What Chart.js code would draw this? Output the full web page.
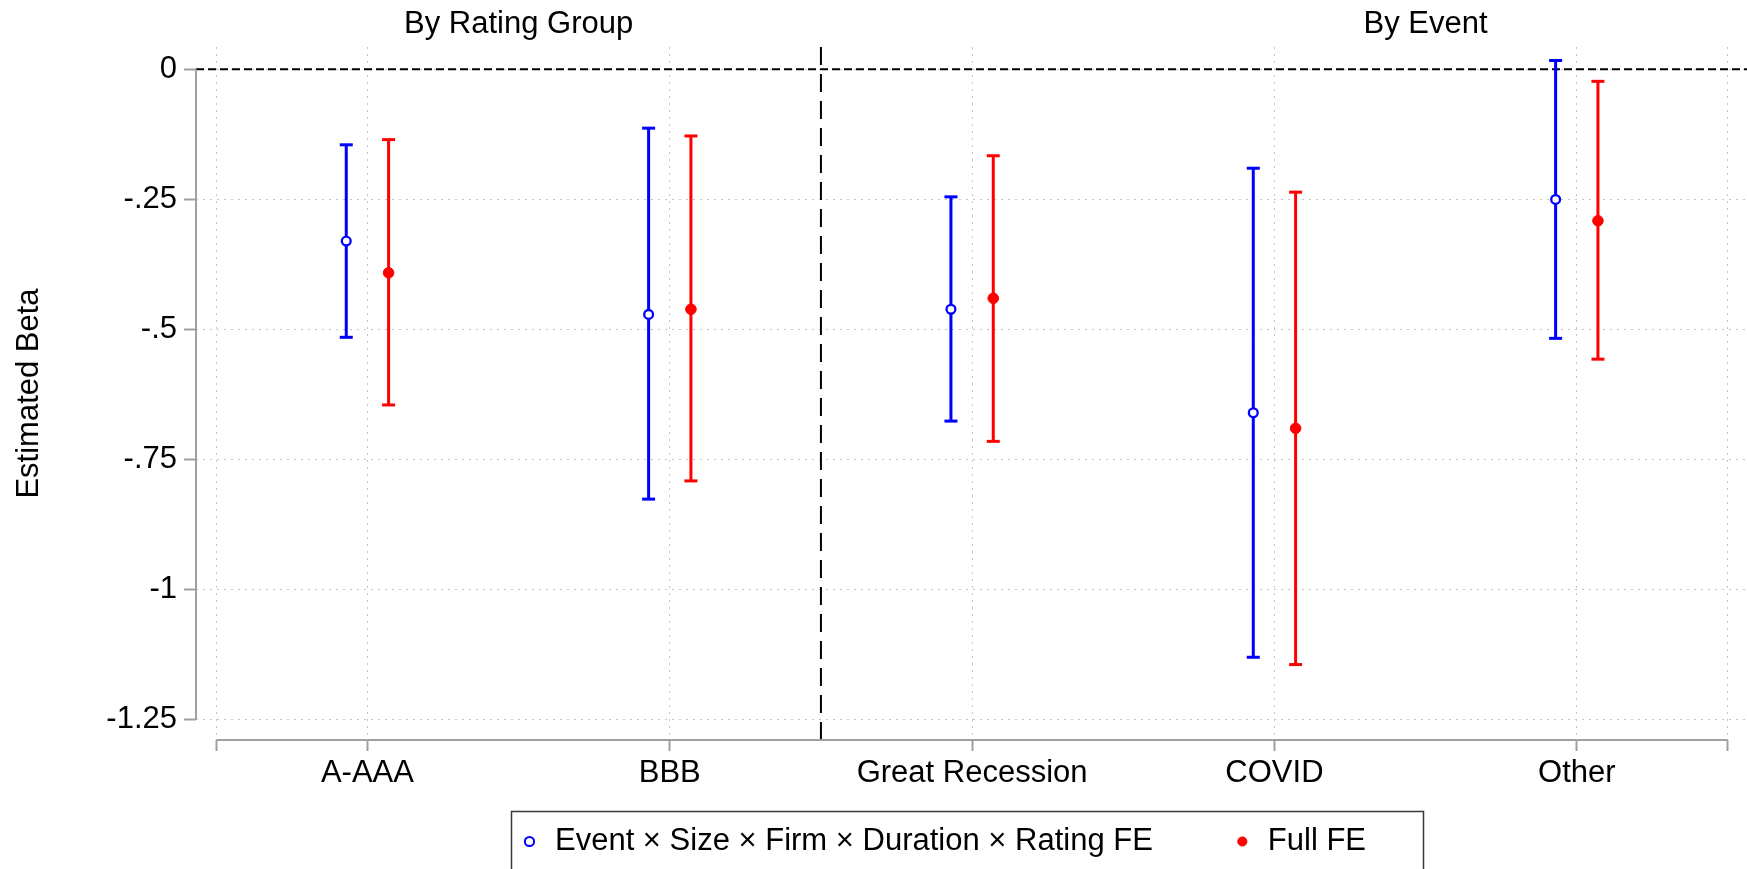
<!DOCTYPE html>
<html><head><meta charset="utf-8">
<script src="https://cdn.jsdelivr.net/npm/chart.js@4.4.1/dist/chart.umd.min.js"></script>
<style>html,body{margin:0;padding:0;background:#fff;overflow:hidden}canvas{display:block}</style>
</head><body>
<canvas id="c" width="1747" height="869"></canvas>
<script>
// ---------- data ----------
const categories = ['A-AAA', 'BBB', 'Great Recession', 'COVID', 'Other'];
const groupTitles = ['By Rating Group', 'By Event'];
const groupCenters = [1.5, 4.5];
const seriesNames = ['Event \u00d7 Size \u00d7 Firm \u00d7 Duration \u00d7 Rating FE', 'Full FE'];

const estEvent = [-0.330, -0.471, -0.461, -0.660, -0.250];
const loEvent  = [-0.515, -0.826, -0.676, -1.130, -0.517];
const hiEvent  = [-0.145, -0.113, -0.245, -0.190,  0.017];

const estFull  = [-0.391, -0.461, -0.440, -0.690, -0.291];
const loFull   = [-0.645, -0.791, -0.715, -1.144, -0.557];
const hiFull   = [-0.135, -0.128, -0.166, -0.236, -0.023];

const yTickValues = [0, -0.25, -0.5, -0.75, -1, -1.25];
const yTickLabels = ['0', '-.25', '-.5', '-.75', '-1', '-1.25'];
const xTickValues = [0.5, 1, 2, 3, 4, 5, 5.5];
const refY = 0;
const refX = 2.5;

// ---------- styling / layout ----------
const BLUE = '#0000ff', RED = '#ff0000';
const OFFSET = 0.07;
const X_MIN = 0.433, X_MAX = 5.563, Y_MIN = -1.289, Y_MAX = 0.043;
const FONT = "'Liberation Sans', Arial, Helvetica, sans-serif";
const FS = 31;

Chart.defaults.font.family = FONT;
Chart.defaults.font.size = FS;
Chart.defaults.color = '#000';

function whiskers(lo, hi, off) {
  const d = [];
  categories.forEach((c, i) => {
    const x = i + 1 + off;
    d.push({x, y: lo[i]}, {x, y: hi[i]}, {x, y: null});
  });
  return d;
}
function caps(lo, hi, off) {
  const d = [];
  categories.forEach((c, i) => {
    const x = i + 1 + off;
    d.push({x, y: lo[i]}, {x, y: hi[i]});
  });
  return d;
}
function points(est, off) {
  return categories.map((c, i) => ({x: i + 1 + off, y: est[i]}));
}

const frame = {
  id: 'frame',
  beforeDatasetsDraw(chart) {
    const {ctx, chartArea: a, scales: {x, y}} = chart;
    ctx.save();
    ctx.strokeStyle = '#000';
    ctx.lineWidth = 2;
    ctx.setLineDash([8, 4]);
    const py = y.getPixelForValue(refY);
    ctx.beginPath(); ctx.moveTo(a.left, py); ctx.lineTo(a.right, py); ctx.stroke();
    ctx.setLineDash([18, 9]);
    const px = x.getPixelForValue(refX);
    ctx.beginPath(); ctx.moveTo(px, a.top); ctx.lineTo(px, a.bottom); ctx.stroke();
    ctx.setLineDash([]);
    ctx.strokeStyle = '#a0a0a0';
    ctx.lineWidth = 2;
    ctx.beginPath();
    ctx.moveTo(a.left, y.getPixelForValue(yTickValues[0]));
    ctx.lineTo(a.left, y.getPixelForValue(yTickValues[yTickValues.length - 1]));
    ctx.stroke();
    ctx.beginPath();
    ctx.moveTo(x.getPixelForValue(xTickValues[0]), a.bottom);
    ctx.lineTo(x.getPixelForValue(xTickValues[xTickValues.length - 1]), a.bottom);
    ctx.stroke();
    ctx.restore();
  },
  afterDraw(chart) {
    const lg = chart.legend;
    if (!lg || !lg.legendHitBoxes || !lg.legendHitBoxes.length) return;
    const hb = lg.legendHitBoxes;
    const left = hb[0].left - 8;
    const right = hb[hb.length - 1].left + hb[hb.length - 1].width;
    const top = hb[0].top - 15;
    const ctx = chart.ctx;
    ctx.save();
    ctx.strokeStyle = '#3a3a3a';
    ctx.lineWidth = 1.5;
    ctx.strokeRect(Math.round(left) + 0.5, Math.round(top) + 0.5, Math.round(right - left), 200);
    ctx.restore();
  }
};

const spacer = {text: '', pointStyle: 'circle', fillStyle: 'rgba(0,0,0,0)', strokeStyle: 'rgba(0,0,0,0)', lineWidth: 0, hidden: false};

function noHPad(s) { s.paddingLeft = 0; s.paddingRight = 0; }

new Chart(document.getElementById('c'), {
  type: 'line',
  data: {
    datasets: [
      {label: seriesNames[0], data: points(estEvent, -OFFSET), showLine: false, pointStyle: 'circle',
       pointRadius: 4.4, pointBorderWidth: 2.3, pointBorderColor: BLUE, pointBackgroundColor: '#fff', xAxisID: 'x', yAxisID: 'y'},
      {label: seriesNames[1], data: points(estFull, OFFSET), showLine: false, pointStyle: 'circle',
       pointRadius: 5.3, pointBorderWidth: 1, pointBorderColor: RED, pointBackgroundColor: RED, xAxisID: 'x', yAxisID: 'y'},
      {label: 'capsE', data: caps(loEvent, hiEvent, -OFFSET), showLine: false, pointStyle: 'line',
       pointRadius: 6.5, pointBorderWidth: 3, pointBorderColor: BLUE, xAxisID: 'x', yAxisID: 'y'},
      {label: 'capsF', data: caps(loFull, hiFull, OFFSET), showLine: false, pointStyle: 'line',
       pointRadius: 6.5, pointBorderWidth: 3, pointBorderColor: RED, xAxisID: 'x', yAxisID: 'y'},
      {label: 'ciE', data: whiskers(loEvent, hiEvent, -OFFSET), borderColor: BLUE, borderWidth: 3,
       pointRadius: 0, spanGaps: false, tension: 0, fill: false, xAxisID: 'x', yAxisID: 'y'},
      {label: 'ciF', data: whiskers(loFull, hiFull, OFFSET), borderColor: RED, borderWidth: 3,
       pointRadius: 0, spanGaps: false, tension: 0, fill: false, xAxisID: 'x', yAxisID: 'y'}
    ]
  },
  options: {
    responsive: false,
    animation: false,
    devicePixelRatio: 1,
    layout: {autoPadding: false, padding: {left: 0, right: 0, top: 0, bottom: 2}},
    scales: {
      x: {
        type: 'linear', position: 'bottom', min: X_MIN, max: X_MAX,
        afterBuildTicks: s => { s.ticks = xTickValues.map(v => ({value: v})); },
        afterFit: s => { s.height = 64; noHPad(s); },
        ticks: {
          autoSkip: false, maxRotation: 0, padding: 4, color: '#000', font: {size: FS},
          callback: v => (Number.isInteger(v) ? categories[v - 1] : '')
        },
        grid: {color: '#c4c4c4', lineWidth: 1, drawTicks: true, tickLength: 11, tickColor: '#a0a0a0', tickWidth: 2, tickBorderDash: []},
        border: {display: false, dash: [2, 5]}
      },
      x2: {
        type: 'linear', position: 'top', min: X_MIN, max: X_MAX,
        afterBuildTicks: s => { s.ticks = groupCenters.map(v => ({value: v})); },
        afterFit: s => { s.height = 47; noHPad(s); },
        ticks: {
          autoSkip: false, maxRotation: 0, padding: 4, color: '#000', font: {size: FS},
          callback: (v, i) => groupTitles[i]
        },
        grid: {display: false, drawTicks: false, tickLength: 0},
        border: {display: false}
      },
      y: {
        type: 'linear', position: 'left', min: Y_MIN, max: Y_MAX,
        afterBuildTicks: s => { s.ticks = yTickValues.map(v => ({value: v})); },
        afterFit: s => { s.width = 196; s.paddingTop = 0; s.paddingBottom = 0; },
        ticks: {
          autoSkip: false, padding: 7, color: '#000', font: {size: FS},
          callback: (v, i) => yTickLabels[i]
        },
        grid: {color: '#c4c4c4', lineWidth: 1, drawTicks: true, tickLength: 12, tickColor: '#a0a0a0', tickWidth: 2, tickBorderDash: []},
        border: {display: false, dash: [2, 5]},
        title: {display: true, text: 'Estimated Beta', color: '#000', font: {size: FS}, padding: {top: 11, bottom: 0}}
      }
    },
    plugins: {
      tooltip: {enabled: false},
      title: {display: false},
      legend: {
        display: true, position: 'bottom', fullSize: false, align: 'center',
        labels: {
          usePointStyle: true, boxWidth: 20, boxHeight: 6.5, padding: 22, color: '#000', font: {size: FS},
          generateLabels: () => [
            {text: seriesNames[0], pointStyle: 'circle', fillStyle: '#fff', strokeStyle: BLUE, lineWidth: 2, hidden: false, datasetIndex: 0},
            Object.assign({}, spacer),
            {text: seriesNames[1], pointStyle: 'circle', fillStyle: RED, strokeStyle: RED, lineWidth: 1, hidden: false, datasetIndex: 1},
            Object.assign({}, spacer)
          ]
        }
      }
    }
  },
  plugins: [frame]
});
</script>
</body></html>
